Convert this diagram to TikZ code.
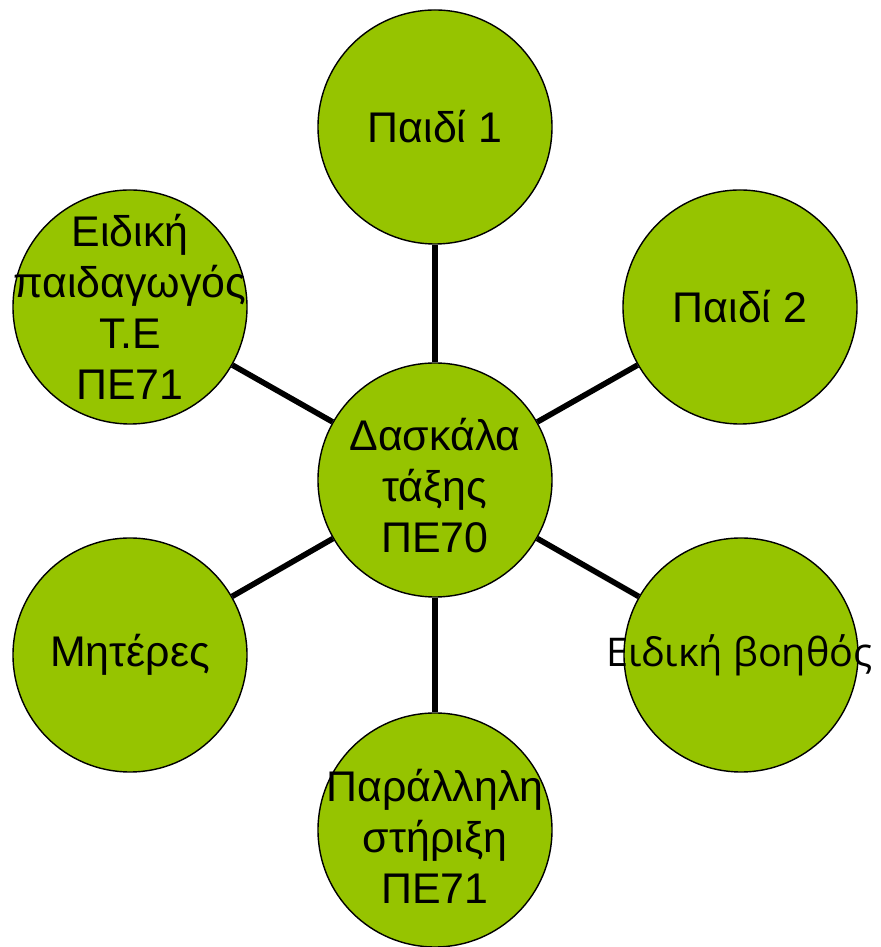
\documentclass[tikz,border=0pt]{standalone}
\usepackage{fontspec}
\setmainfont{Liberation Sans}
\newfontfamily\opensans{Open Sans}
\definecolor{leafgreen}{RGB}{150, 196, 0}
\usetikzlibrary{positioning}

\begin{document}
\begin{tikzpicture}[
  member/.style={circle, draw=black, line width=0.8pt, fill=leafgreen, inner sep=0pt, minimum size=4.68cm},
  caption/.style={align=center, inner sep=0pt, font=\fontsize{24.4}{29}\selectfont},
  link/.style={line width=3.2pt, black}
]
  \useasboundingbox (0, 0) rectangle (17.6, 18.94);

  % Circles
  \node[member] (teacher) at (8.70, 9.34) {};
  \node[member] (child1) at (8.70, 16.40) {};
  \node[member] (child2) at (14.80, 12.80) {};
  \node[member] (assistant) at (14.82, 5.84) {};
  \node[member] (parallel) at (8.70, 2.34) {};
  \node[member] (mothers) at (2.60, 5.84) {};
  \node[member] (special) at (2.60, 12.80) {};

  % Links
  \draw[link] (teacher) -- (child1);
  \draw[link] (teacher) -- (child2);
  \draw[link] (teacher) -- (assistant);
  \draw[link] (teacher) -- (parallel);
  \draw[link] (teacher) -- (mothers);
  \draw[link] (teacher) -- (special);

  % Texts
  \node[caption] (teacher-text) at ([yshift=-0.12cm]teacher.center) {Δασκάλα\\τάξης\\ΠΕ70};
  \node[caption] (child1-text) at (child1.center) {Παιδί 1};
  \node[caption] (child2-text) at (child2.center) {Παιδί 2};
  \node[caption, font=\opensans\fontsize{22.5}{27}\selectfont] (assistant-text) at ([xshift=-0.03cm]assistant.center) {Ειδική βοηθός};
  \node[caption] (parallel-text) at ([yshift=-0.12cm]parallel.center) {Παράλληλη\\στήριξη\\ΠΕ71};
  \node[caption] (mothers-text) at (mothers.center) {Μητέρες};
  \node[caption] (special-text) at (special.center) {Ειδική\\παιδαγωγός\\Τ.Ε\\ΠΕ71};
\end{tikzpicture}
\end{document}
